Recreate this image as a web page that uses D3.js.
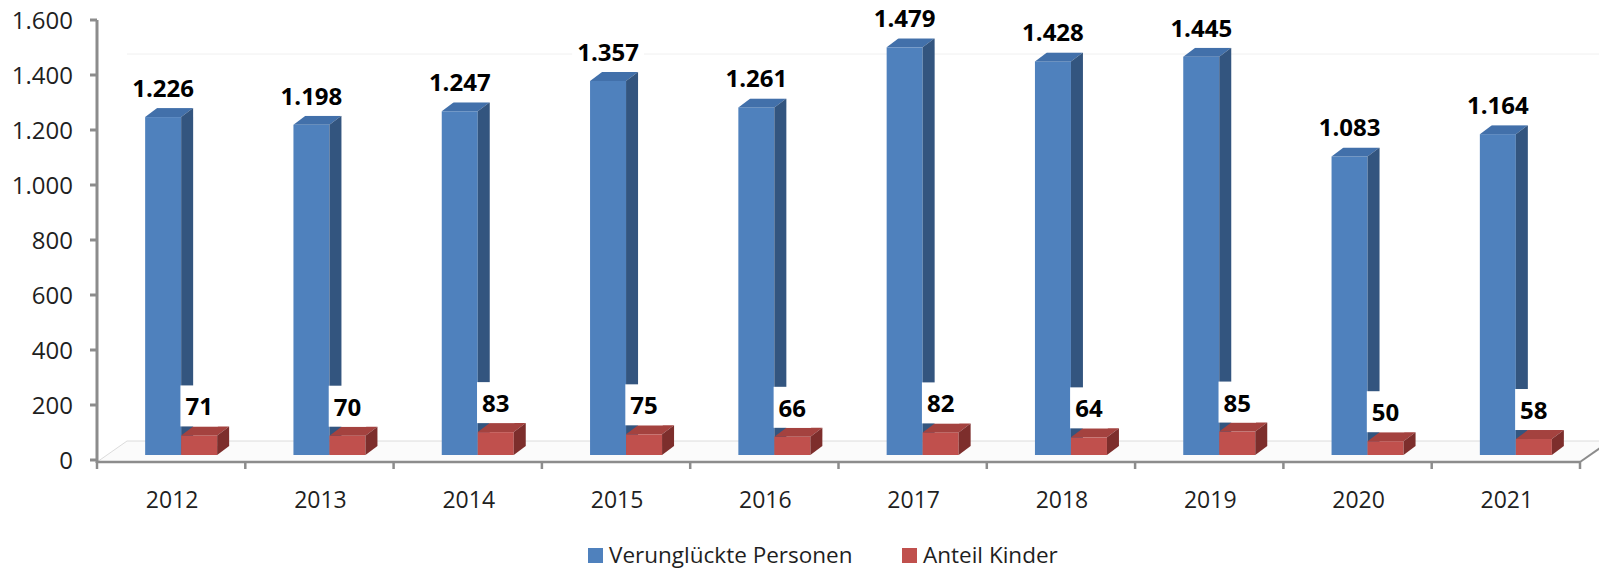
<!DOCTYPE html>
<html>
<head>
<meta charset="utf-8">
<script src="https://cdn.jsdelivr.net/npm/d3@7"></script>
<style>
  body { margin: 0; background: #fff; }
  svg { display: block; font-family: "Open Sans", sans-serif; }
</style>
</head>
<body>
<svg id="main_svg" width="1599" height="570"></svg>
<script>
const years = ["2012","2013","2014","2015","2016","2017","2018","2019","2020","2021"]
const verunglueckte = [1226,1198,1247,1357,1261,1479,1428,1445,1083,1164]
const kinder = [71,70,83,75,66,82,64,85,50,58]
const y_ticks = [0,200,400,600,800,1000,1200,1400,1600]
const series_names = ["Verunglückte Personen","Anteil Kinder"]

const de = d3.formatLocale({decimal: ",", thousands: ".", grouping: [3], currency: ["", " €"]})
const fmt = de.format(",d")

const svg = d3.select("#main_svg")

// axis scale (front of the plot) and bar scale (bars sit a bit behind)
const y = d3.scaleLinear().domain([0,1600]).range([460,20])
const y_bar = d3.scaleLinear().domain([0,1600]).range([455,14])
const x = d3.scaleBand().domain(years).range([97,1580])

const depth_x = 12, depth_y = -9
const bar_w = 36
const floor_dx = 30, floor_dy = -21

const blue = {front: "#4f81bd", top: "#4270aa", side: "#33557f"}
const red = {front: "#c0504d", top: "#a4423f", side: "#7d2e2c"}

// floor + faint back line
svg.append("polygon")
    .attr("points", [[97,462],[1580,462],[1580+floor_dx,462+floor_dy],[97+floor_dx,462+floor_dy]].join(" "))
    .attr("fill", "#fbfbfb")
    .attr("stroke", "#dcdcdc")
    .attr("stroke-width", 1)
svg.append("line")
    .attr("x1", 97+floor_dx).attr("x2", 1599)
    .attr("y1", y(1400)+floor_dy).attr("y2", y(1400)+floor_dy)
    .attr("stroke", "#f0f0f0")

function bar3d(g, x0, v, col){
    const top = y_bar(v), bot = y_bar(0)
    g.append("rect")
        .attr("x", x0).attr("y", top)
        .attr("width", bar_w).attr("height", bot-top)
        .attr("fill", col.front)
    g.append("polygon")
        .attr("points", [[x0,top],[x0+bar_w,top],[x0+bar_w+depth_x,top+depth_y],[x0+depth_x,top+depth_y]].join(" "))
        .attr("fill", col.top)
    g.append("polygon")
        .attr("points", [[x0+bar_w,top],[x0+bar_w+depth_x,top+depth_y],[x0+bar_w+depth_x,bot+depth_y],[x0+bar_w,bot]].join(" "))
        .attr("fill", col.side)
}

const bars = svg.append("g")
years.forEach((yr,i)=>{
    const c = x(yr) + x.bandwidth()/2 + 10
    bar3d(bars, c-bar_w, verunglueckte[i], blue)
    bar3d(bars, c, kinder[i], red)
})

// axes
const axis_col = "#8c8c8c"
svg.append("line")
    .attr("x1", 97).attr("x2", 97).attr("y1", y(1600)).attr("y2", 463)
    .attr("stroke", axis_col).attr("stroke-width", 3)
svg.append("line")
    .attr("x1", 97).attr("x2", 1580).attr("y1", 462).attr("y2", 462)
    .attr("stroke", axis_col).attr("stroke-width", 2.5)
svg.append("line")
    .attr("x1", 1580).attr("x2", 1580+floor_dx).attr("y1", 462).attr("y2", 462+floor_dy)
    .attr("stroke", axis_col).attr("stroke-width", 2)

svg.selectAll(".ytick")
    .data(y_ticks)
    .enter().append("line")
    .attr("x1", 90).attr("x2", 97)
    .attr("y1", d=>y(d)).attr("y2", d=>y(d))
    .attr("stroke", axis_col).attr("stroke-width", 3)
svg.selectAll(".ylab")
    .data(y_ticks)
    .enter().append("text")
    .attr("x", 73).attr("y", d=>y(d))
    .attr("dy", "0.36em")
    .attr("text-anchor", "end")
    .attr("font-size", 24)
    .attr("fill", "#1f1f1f")
    .text(d=>fmt(d))

const x_edges = years.map(d=>x(d)).concat([x.range()[1]])
svg.selectAll(".xtick")
    .data(x_edges)
    .enter().append("line")
    .attr("x1", d=>d).attr("x2", d=>d)
    .attr("y1", 462).attr("y2", 469)
    .attr("stroke", axis_col).attr("stroke-width", 2.5)
svg.selectAll(".xlab")
    .data(years)
    .enter().append("text")
    .attr("x", d=>x(d)+x.bandwidth()/2+1)
    .attr("y", 508)
    .attr("text-anchor", "middle")
    .attr("font-size", 23)
    .attr("fill", "#1f1f1f")
    .text(d=>d)

// data labels with white boxes
function label(cx, v){
    const base = y_bar(v) + depth_y
    const g = svg.append("g")
    const t = g.append("text")
        .attr("x", cx).attr("y", base-11)
        .attr("text-anchor", "middle")
        .attr("font-size", 24)
        .attr("font-weight", "bold")
        .attr("fill", "#000")
        .text(fmt(v))
    const w = t.node().getBBox().width + 10
    g.insert("rect", "text")
        .attr("x", cx-w/2).attr("y", base-41)
        .attr("width", w).attr("height", 41)
        .attr("fill", "#fff")
}
years.forEach((yr,i)=>{
    const c = x(yr) + x.bandwidth()/2 + 10
    label(c-bar_w/2, verunglueckte[i])
    label(c+bar_w/2, kinder[i])
})

// legend
const legend = svg.append("g")
const leg_items = [{name: series_names[0], col: blue.front, x: 588}, {name: series_names[1], col: red.front, x: 902}]
leg_items.forEach(it=>{
    legend.append("rect")
        .attr("x", it.x).attr("y", 548)
        .attr("width", 15).attr("height", 15)
        .attr("fill", it.col)
    legend.append("text")
        .attr("x", it.x+21).attr("y", 563)
        .attr("font-size", 22.5)
        .attr("fill", "#1f1f1f")
        .text(it.name)
})
</script>
</body>
</html>
